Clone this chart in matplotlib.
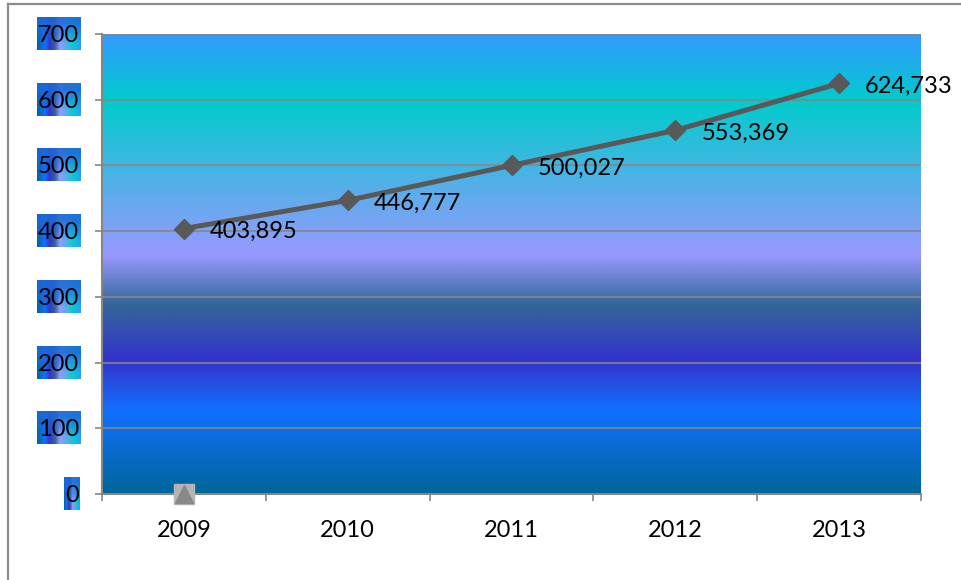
import numpy as np
import matplotlib
matplotlib.use("Agg")
import matplotlib.pyplot as plt
from matplotlib.colors import LinearSegmentedColormap, to_rgb
from matplotlib.lines import Line2D

# data
years = ["2009", "2010", "2011", "2012", "2013"]
values = [403.895, 446.777, 500.027, 553.369, 624.733]
second = [0, np.nan, np.nan, np.nan, np.nan]
yticks = [0, 100, 200, 300, 400, 500, 600, 700]

plt.rcParams['font.family'] = ['Lato', 'DejaVu Sans']
FS = 17

W, H = 961, 580
fig = plt.figure(figsize=(W / 100, H / 100), dpi=100)
L, R, T, B = 102, 921, 34, 494
ax = fig.add_axes([L / W, 1 - B / H, (R - L) / W, (B - T) / H])

# gradient (bottom -> top), same one is used on the tick label boxes
stops = [(0.0, "#006699"), (0.18, "#1170ff"), (0.29, "#3333cc"),
         (0.41, "#336699"), (0.52, "#9999ff"), (0.857, "#00cccc"),
         (1.0, "#3399ff")]
cmap = LinearSegmentedColormap.from_list("ocean_fill", stops)
grad = np.linspace(0, 1, 512).reshape(-1, 1)
ax.imshow(grad, cmap=cmap, origin="lower", aspect="auto",
          extent=(0, 1, 0, 1), transform=ax.transAxes, zorder=0)

x = np.arange(len(years))
ax.set_xlim(-0.5, len(years) - 0.5)
ax.set_ylim(0, 700)

grid_c = "#868686"
for yv in yticks[1:]:
    ax.axhline(yv, color=grid_c, lw=1.2, zorder=1)

ax.plot(x, values, color="#595959", lw=3.6, marker="D", ms=10,
        zorder=3, clip_on=False)
ax.plot(x, second, ls="none", marker="s", ms=14, color="#b4b4b4",
        zorder=3, clip_on=False)
ax.plot(x, second, ls="none", marker="^", ms=13, color="#888888",
        zorder=4, clip_on=False)

for i, v in enumerate(values):
    ax.annotate(f"{v:.3f}".replace(".", ","), (x[i], v),
                xytext=(26, -9), textcoords="offset pixels",
                ha="left", va="baseline", fontsize=FS, color="black", zorder=5)

for i, yr in enumerate(years):
    ax.annotate(yr, (x[i], 0), xycoords=("data", "axes fraction"),
                xytext=(0, -43), textcoords="offset pixels",
                ha="center", va="baseline", fontsize=FS)

# axes styling
for s in ["top", "right"]:
    ax.spines[s].set_visible(False)
for s in ["left", "bottom"]:
    ax.spines[s].set_color(grid_c)
    ax.spines[s].set_linewidth(1.5)
    ax.spines[s].set_zorder(2)
ax.set_xticks(np.arange(-0.5, len(years), 1.0))
ax.set_yticks(yticks)
ax.tick_params(axis="both", direction="out", length=5, width=1.2,
               color=grid_c, labelleft=False, labelbottom=False)

# box fill for the y labels: horizontal gradient, washed to blue at the top
hx = cmap(np.linspace(0, 1, 128))[:, :3]
blue = np.array(to_rgb("#1c68d6"))
rows = np.linspace(0, 1, 32)[:, None, None]  # 0 = top row
wgt = np.clip(1.3 - 1.6 * rows, 0, 1) * 0.85
box_img = hx[None, :, :] * (1 - wgt) + blue * wgt

fig.canvas.draw()
rend = fig.canvas.get_renderer()
for yv in yticks:
    ypix = H - (B - (B - T) * yv / 700)  # from bottom
    t = fig.text(79 / W, (ypix - 8) / H, str(yv), ha="right", va="baseline",
                 fontsize=FS, color="black", zorder=5)
    bb = t.get_window_extent(rend)
    x0, x1 = bb.x0 - 1, 80
    y0, y1 = ypix - 16, ypix + 17
    bax = fig.add_axes([x0 / W, y0 / H, (x1 - x0) / W, (y1 - y0) / H], zorder=1)
    bax.imshow(box_img, aspect="auto", extent=(0, 1, 0, 1))
    bax.axis("off")

# outer frame (only top and left visible in the crop)
fig.add_artist(Line2D([8 / W, 8 / W], [0, 1 - 4 / H], transform=fig.transFigure,
                      color="#8c8c8c", lw=1.6))
fig.add_artist(Line2D([8 / W, 1], [1 - 4 / H, 1 - 4 / H], transform=fig.transFigure,
                      color="#8c8c8c", lw=1.6))

fig.savefig("out.png", dpi=100)
